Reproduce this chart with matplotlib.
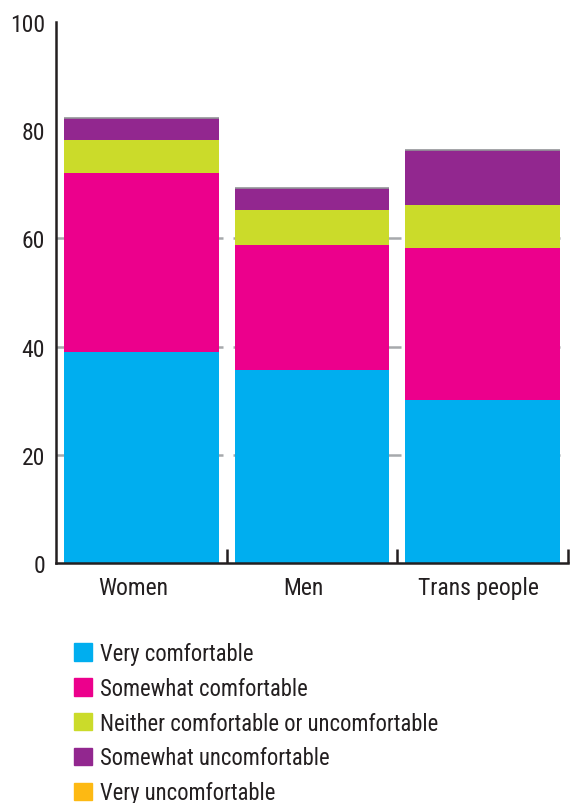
import matplotlib
matplotlib.use('Agg')
import matplotlib.pyplot as plt
import matplotlib.patches as mpatches
import matplotlib.transforms as mtransforms
import numpy as np

plt.rcParams['font.family'] = ['Roboto Condensed', 'DejaVu Sans']

# data (percent)
groups = ['Women', 'Men', 'Trans people']
categories = ['Very comfortable', 'Somewhat comfortable',
              'Neither comfortable or uncomfortable',
              'Somewhat uncomfortable', 'Very uncomfortable']
very_comf = [39.0, 35.7, 30.1]
somewhat_comf = [33.1, 23.1, 28.1]
neither = [6.1, 6.4, 8.0]
somewhat_uncomf = [4.1, 4.1, 10.1]
very_uncomf = [0.0, 0.0, 0.0]
colors = ['#00aeef', '#ec008c', '#cbdb2a', '#92278f', '#fdb913']

series = [very_comf, somewhat_comf, neither, somewhat_uncomf, very_uncomf]

fig = plt.figure(figsize=(5.71, 8.04), dpi=100)
ax = fig.add_axes([0.0981, 0.2985, 0.8966, 0.6729])

x = np.arange(len(groups))
w = 0.905
txt = '#231f20'
grid = '#a7a9ac'

# short grey gridlines behind bars
for gy in [20, 40, 60]:
    ax.hlines(gy, -0.5, 0.5 * w + 0.025, color=grid, lw=1.8, zorder=1)
    ax.hlines(gy, 1 - 0.5 * w - 0.01, 1 + 0.5 * w + 0.07, color=grid, lw=1.8, zorder=1)
    ax.hlines(gy, 2 - 0.5 * w, 2 + 0.5 * w, color=grid, lw=1.8, zorder=1)

bottom = np.zeros(len(groups))
for vals, c in zip(series, colors):
    ax.bar(x, vals, w, bottom=bottom, color=c, zorder=2)
    bottom += np.array(vals)

# thin grey cap on each stack
ax.hlines(bottom, x - w / 2, x + w / 2, color='#939598', lw=1.2, zorder=3)

ax.set_xlim(-0.5, 2.5)
ax.set_ylim(0, 100)
ax.set_yticks([0, 20, 40, 60, 80, 100])
ax.tick_params(axis='y', length=0, pad=8, labelsize=17, labelcolor=txt)
ax.set_xticks(x)
ax.set_xticklabels(groups)
ax.tick_params(axis='x', length=0, pad=9, labelsize=17, labelcolor=txt)

# labels in the reference sit a little left of the bar centres
for lab, dx in zip(ax.get_xticklabels(), [-8, -9, -4]):
    lab.set_transform(lab.get_transform() + mtransforms.ScaledTranslation(dx / 100, 0, fig.dpi_scale_trans))

for s in ['top', 'right']:
    ax.spines[s].set_visible(False)
for s in ['left', 'bottom']:
    ax.spines[s].set_color(txt)
    ax.spines[s].set_linewidth(1.8)

# small upward ticks between bars on the baseline
for tx in [0.5, 1.5, 2.5]:
    ax.vlines(tx, 0, 2.5, color=txt, lw=1.8, zorder=4, clip_on=False)

handles = [mpatches.Patch(color=c, label=l) for c, l in zip(colors, categories)]
fig.legend(handles=handles, loc='upper left', bbox_to_anchor=(74 / 571, 1 - 643 / 804),
           frameon=False, fontsize=16.3, handlelength=0.8, handleheight=0.8,
           handletextpad=0.35, labelspacing=0.52, borderpad=0, borderaxespad=0,
           labelcolor=txt)

fig.savefig('out.png', dpi=100)
